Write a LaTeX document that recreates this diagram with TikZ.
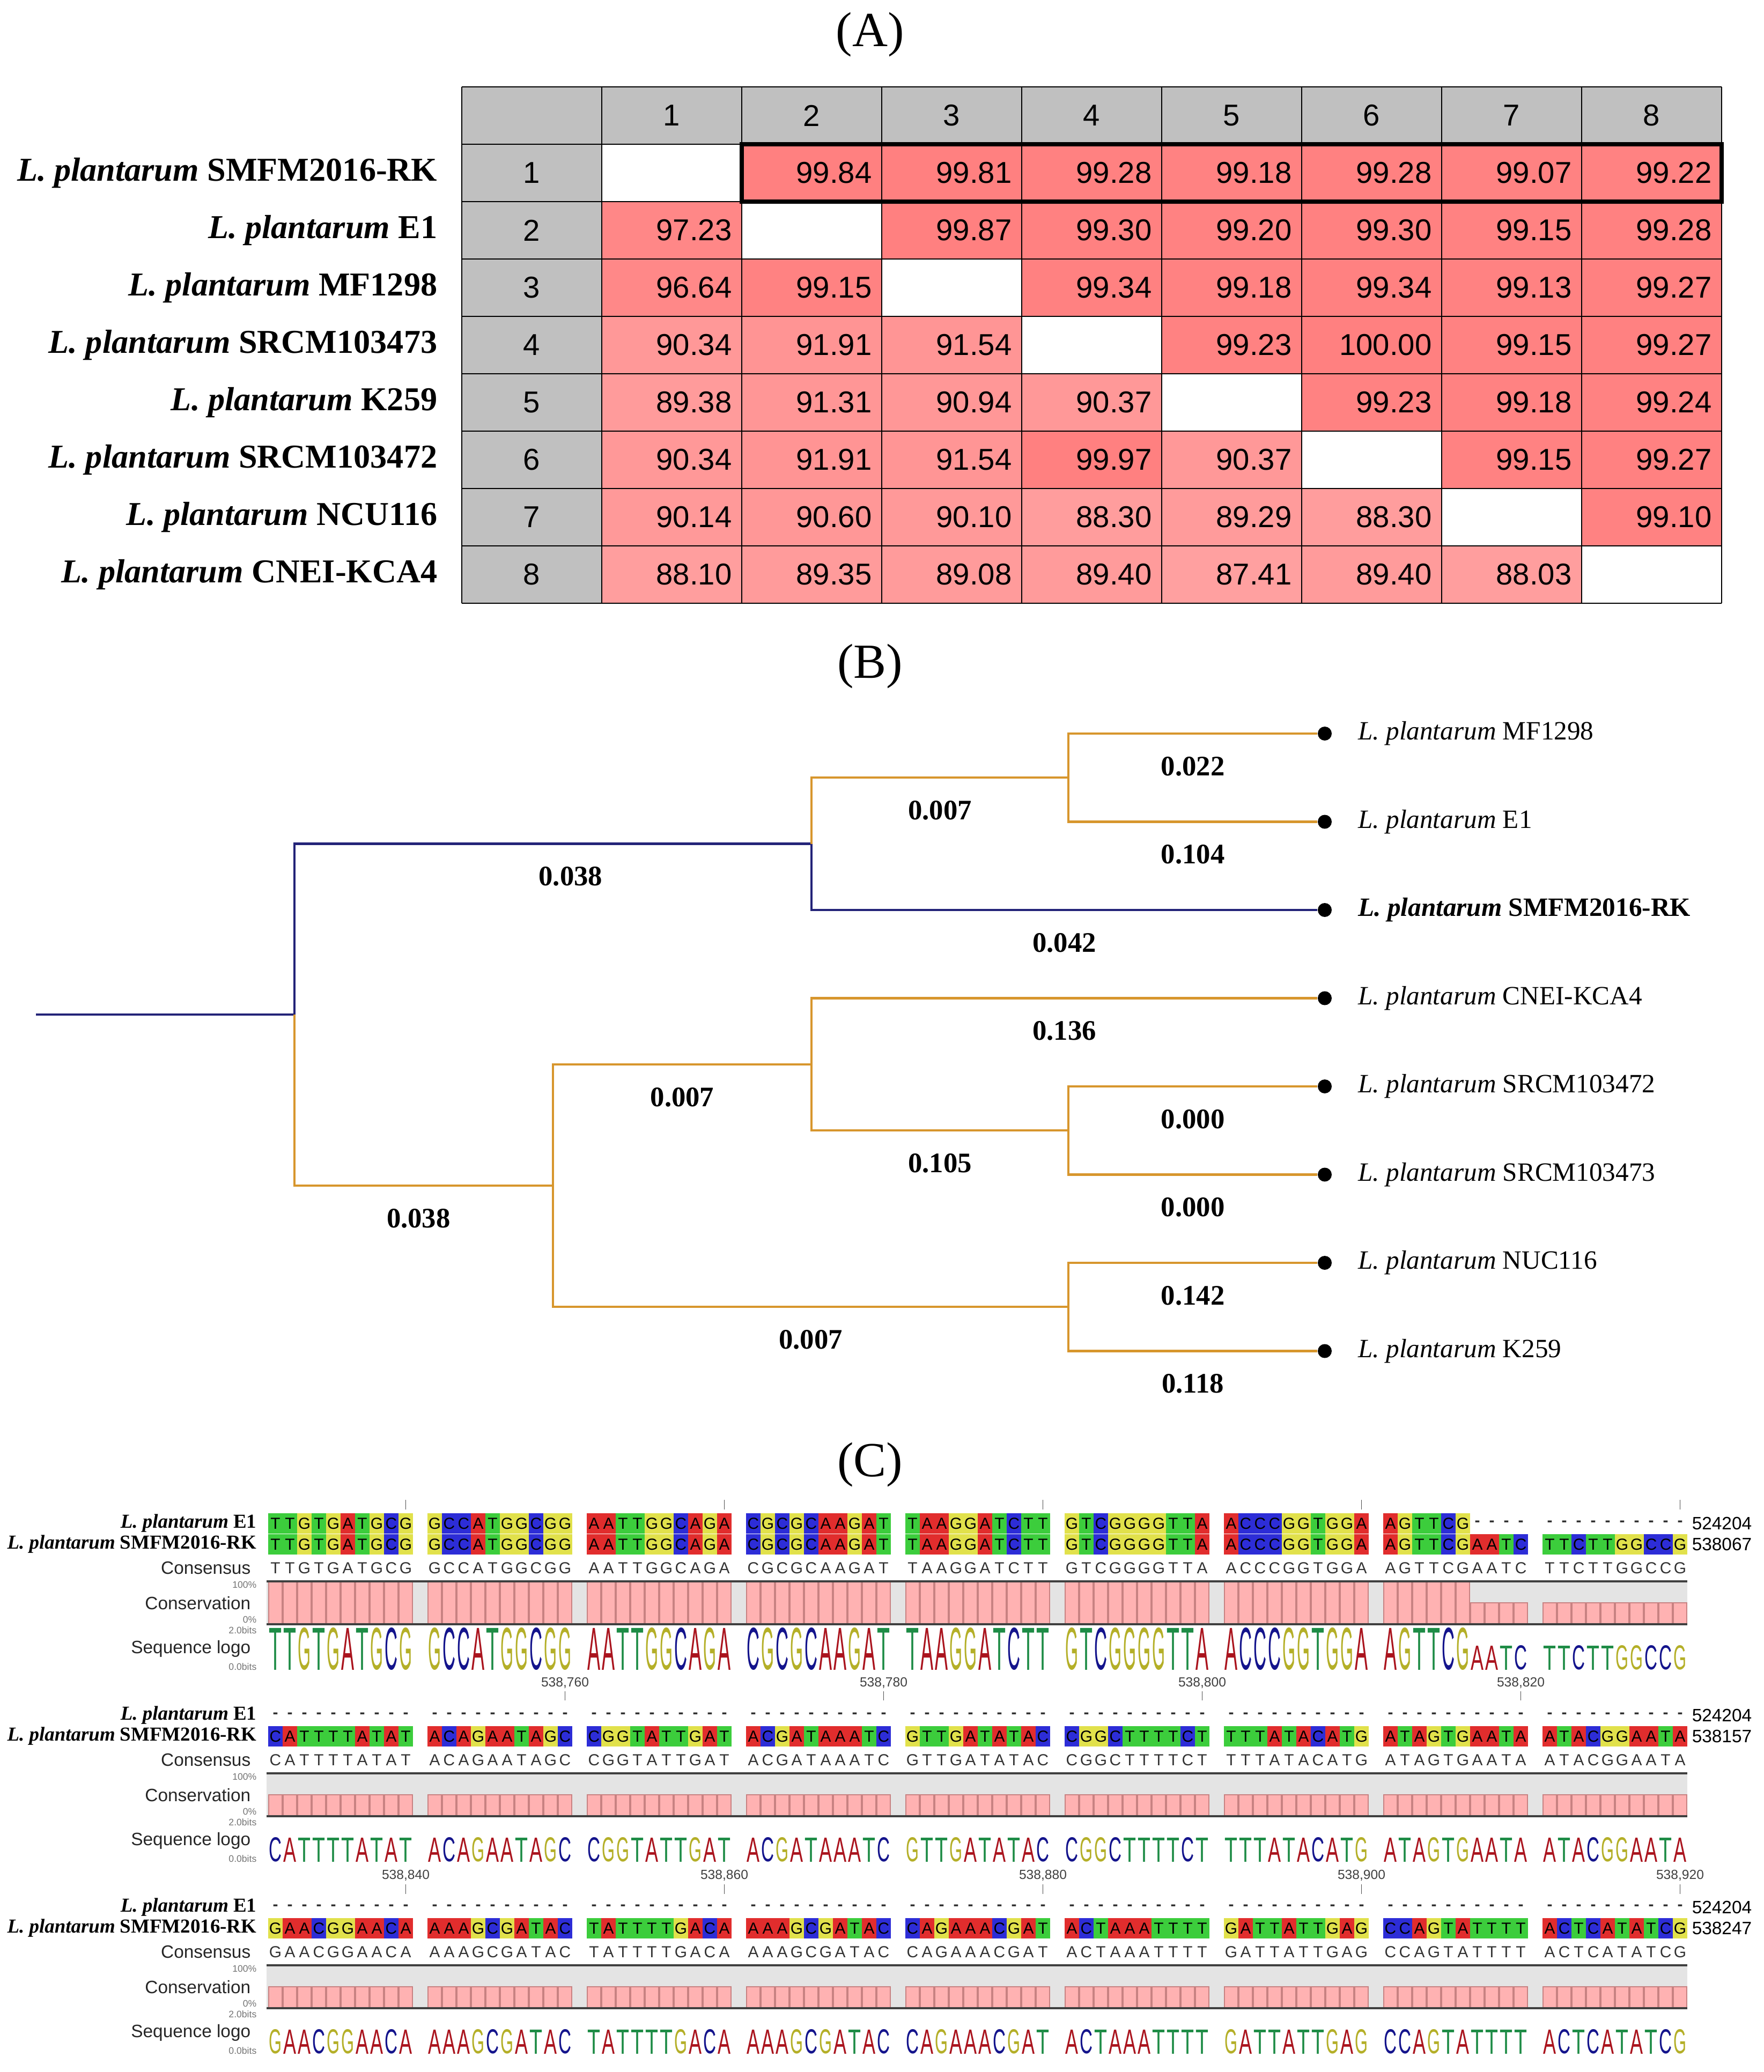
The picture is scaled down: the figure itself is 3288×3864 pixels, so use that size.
\documentclass[tikz,border=0pt]{standalone}
\usepackage{fontspec}
\setmainfont{Liberation Serif}
\setsansfont{Liberation Sans}
\usepackage{graphicx}
\usetikzlibrary{calc}

\definecolor{headgray}{RGB}{192,192,192}
\definecolor{treeblue}{RGB}{35,35,120}
\definecolor{treeorange}{RGB}{215,150,45}
\definecolor{ntA}{RGB}{225,45,45}
\definecolor{ntC}{RGB}{45,45,215}
\definecolor{ntG}{RGB}{225,225,75}
\definecolor{ntT}{RGB}{60,205,60}
\definecolor{lgA}{RGB}{170,20,30}
\definecolor{lgC}{RGB}{20,20,140}
\definecolor{lgG}{RGB}{180,175,40}
\definecolor{lgT}{RGB}{30,140,70}
\colorlet{nta}{ntA}\colorlet{ntc}{ntC}\colorlet{ntg}{ntG}\colorlet{ntt}{ntT}
\colorlet{lga}{lgA}\colorlet{lgc}{lgC}\colorlet{lgg}{lgG}\colorlet{lgt}{lgT}
\definecolor{barpink}{RGB}{255,178,178}
\definecolor{baredge}{RGB}{200,130,130}
\definecolor{consbg}{RGB}{228,228,228}

\tikzset{
  paneltitle/.style={font=\fontsize{26}{30}\selectfont},
  rowlab/.style={anchor=east, inner sep=0pt, font=\fontsize{17.7}{21}\selectfont\bfseries},
  cellnum/.style={inner sep=0pt, font=\sffamily\fontsize{16}{19}\selectfont},
  gridline/.style={line width=0.8pt},
  branchblue/.style={draw=treeblue, line width=1.2pt},
  branchorange/.style={draw=treeorange, line width=1.2pt},
  brlab/.style={font=\fontsize{15}{18}\selectfont\bfseries, inner sep=0pt, below=0.41cm},
  leafdot/.style={circle, fill=black, inner sep=0pt, minimum size=0.26cm},
  leaflab/.style={anchor=west, font=\fontsize{14}{17}\selectfont},
  seqlab/.style={anchor=east, inner sep=0pt, font=\fontsize{10.5}{12.5}\selectfont\bfseries},
  tracklab/.style={anchor=east, inner sep=0pt, text=black!85, font=\sffamily\fontsize{9.5}{11}\selectfont},
  scalelab/.style={anchor=east, inner sep=0pt, text=black!55, font=\sffamily\fontsize{5}{6}\selectfont},
  ntlet/.style={inner sep=0pt, font=\sffamily\fontsize{8.5}{10}\selectfont},
  gaplet/.style={inner sep=0pt, text=black!80, font=\sffamily\bfseries\fontsize{8.5}{10}\selectfont},
  conslet/.style={inner sep=0pt, text=black!80, font=\sffamily\fontsize{8.5}{10}\selectfont},
  logolet/.style={anchor=south, inner sep=0pt},
  poslab/.style={inner sep=0pt, text=black!75, font=\sffamily\fontsize{7}{8}\selectfont},
  endnum/.style={anchor=west, inner sep=0pt, font=\sffamily\fontsize{9.5}{11}\selectfont},
  tickmark/.style={draw=black!70, line width=0.5pt},
  consbar/.style={fill=barpink, draw=baredge, line width=0.4pt},
  consline/.style={draw=black!75, line width=0.9pt}
}

% alignment columns, one character at a time
\newcount\seqn
\def\seqscan#1{\ifx#1\relax\else\seqdo#1\global\advance\seqn by 1\relax\expandafter\seqscan\fi}
\def\eicol#1{%
  \ifx#1.\else
    \pgfmathsetmacro\cx{500+27*\the\seqn}%
    \ifx#1-%
      \node[gaplet] (e\seqb-\the\seqn) at ({\cx+13.5},{\seqy-39}) {-};
    \else
      \fill[nt#1] ({\cx},{\seqy-58}) rectangle +(27,38);
      \node[ntlet] (e\seqb-\the\seqn) at ({\cx+13.5},{\seqy-39}) {#1};
    \fi
  \fi}
\def\rkcol#1{%
  \ifx#1.\else
    \pgfmathsetmacro\cx{500+27*\the\seqn}%
    \ifnum`#1>90 \def\barh{40}\def\logoh{0.45cm}\else\def\barh{80}\def\logoh{0.78cm}\fi
    \fill[nt#1] ({\cx},{\seqy-19}) rectangle +(27,38);
    \node[ntlet] (rk\seqb-\the\seqn) at ({\cx+13.5},{\seqy}) {\uppercase{#1}};
    \node[conslet] (cs\seqb-\the\seqn) at ({\cx+13.5},{\seqy+44}) {\uppercase{#1}};
    \draw[consbar] ({\cx+1},{\seqy+149-\barh}) rectangle ({\cx+26},{\seqy+149});
    \node[logolet, text=lg#1] (lg\seqb-\the\seqn) at ({\cx+13.5},{\seqy+235})
      {\resizebox{0.24cm}{\logoh}{\sffamily\uppercase{#1}}};
  \fi}
% #1 y, #2 block, #3 E1, #4 SMFM2016-RK, #5 end position
\newcommand\seqblock[5]{%
  \def\seqy{#1}\def\seqb{#2}%
  \node[seqlab] (e1lab#2) at (479,{#1-39}) {\textit{L. plantarum} E1};
  \node[seqlab] (rklab#2) at (479,{#1}) {\textit{L. plantarum} SMFM2016-RK};
  \node[tracklab] (conslab#2) at (468,{#1+44}) {Consensus};
  \node[tracklab] (conservlab#2) at (468,{#1+110}) {Conservation};
  \node[tracklab] (logolab#2) at (468,{#1+195}) {Sequence logo};
  \node[scalelab] (top#2) at (479,{#1+75}) {100\%};
  \node[scalelab] (zero#2) at (479,{#1+140}) {0\%};
  \node[scalelab] (bits#2) at (479,{#1+160}) {2.0bits};
  \node[scalelab] (nobits#2) at (479,{#1+228}) {0.0bits};
  \fill[consbg] (497,{#1+69}) rectangle (3146,{#1+149});
  \global\seqn=0 \let\seqdo\eicol \seqscan#3\relax
  \global\seqn=0 \let\seqdo\rkcol \seqscan#4\relax
  \draw[consline] (497,{#1+69}) -- (3146,{#1+69});
  \draw[consline] (497,{#1+149}) -- (3146,{#1+149});
  \node[endnum] (ende#2) at (3154,{#1-39}) {524204};
  \node[endnum] (endrk#2) at (3154,{#1}) {#5};
}

\begin{document}
\begin{tikzpicture}[x=0.01cm, y=-0.01cm]
\useasboundingbox (0,0) rectangle (3288,3864);

% (A) identidade
\node[paneltitle] (ta) at (1622,65) {(A)};
\foreach \i in {0,...,8} {
  \fill[headgray] ({861+261*\i},162) rectangle +(261,107);
  \fill[headgray] (861,{162+107*\i}) rectangle +(261,107);
}
\foreach \row [count=\i] in {{0,99.84,99.81,99.28,99.18,99.28,99.07,99.22},
    {97.23,0,99.87,99.30,99.20,99.30,99.15,99.28},
    {96.64,99.15,0,99.34,99.18,99.34,99.13,99.27},
    {90.34,91.91,91.54,0,99.23,100.00,99.15,99.27},
    {89.38,91.31,90.94,90.37,0,99.23,99.18,99.24},
    {90.34,91.91,91.54,99.97,90.37,0,99.15,99.27},
    {90.14,90.60,90.10,88.30,89.29,88.30,0,99.10},
    {88.10,89.35,89.08,89.40,87.41,89.40,88.03,0}} {
  \node[cellnum] (r\i) at (991.5,{162+107*\i+53.5}) {\i};
  \node[cellnum] (h\i) at ({861+261*\i+130.5},215.5) {\i};
  \foreach \v [count=\j] in \row {
    \ifdim\v pt<1pt
      \fill[white] ({861+261*\j},{162+107*\i}) rectangle +(261,107);
    \else
      \pgfmathsetmacro\shade{\v-50}
      \fill[red!\shade] ({861+261*\j},{162+107*\i}) rectangle +(261,107);
      \node[cellnum, anchor=east] (c\i-\j) at ({861+261*(\j+1)-18},{162+107*\i+53.5}) {\v};
    \fi
  }
}
\foreach \i in {0,...,9} {
  \draw[gridline] ({861+261*\i},162) -- +(0,963);
  \draw[gridline] (861,{162+107*\i}) -- +(2349,0);
}
\draw[line width=2.4pt] (1383,269) rectangle (3210,376);
\foreach \name [count=\i] in {SMFM2016-RK,E1,MF1298,SRCM103473,K259,SRCM103472,NCU116,CNEI-KCA4}
  \node[rowlab] (lab\i) at (816,{162+107*\i+53.5}) {\textit{L. plantarum} \name};

% (B) arvore
\node[paneltitle] (tb) at (1622,1243) {(B)};
\coordinate (root) at (67,1892);
\coordinate (n0) at (549,1892);
\coordinate (n1) at (1513,1573.5);
\coordinate (n2) at (1992,1450);
\coordinate (n3) at (1031,2211);
\coordinate (n4) at (1513,1985);
\coordinate (n5) at (1992,2108);
\coordinate (n6) at (1992,2437);
\foreach \leaf/\name [count=\k from 0] in {mf/MF1298,e1/E1,rk/SMFM2016-RK,cnei/CNEI-KCA4,
    s72/SRCM103472,s73/SRCM103473,nuc/NUC116,k259/K259} {
  \node[leafdot] (\leaf) at (2470,{1368+164.5*\k}) {};
  \ifnum\k=2
    \node[leaflab, font=\fontsize{14}{17}\selectfont\bfseries] (t\leaf) at (2520,{1368+164.5*\k}) {\textit{L. plantarum} \name};
  \else
    \node[leaflab] (t\leaf) at (2520,{1368+164.5*\k}) {\textit{L. plantarum} \name};
  \fi
}
\draw[branchblue] (root) -- (n0);
\draw[branchblue] (n0) |- (n1) node[pos=0.767, brlab] {0.038};
\draw[branchorange] (n1) |- (n2) node[pos=0.75, brlab] {0.007};
\draw[branchorange] (n2) |- (mf) node[pos=0.75, brlab] {0.022};
\draw[branchorange] (n2) |- (e1) node[pos=0.75, brlab] {0.104};
\draw[branchblue] (n1) |- (rk) node[pos=0.75, brlab] {0.042};
\draw[branchorange] (n0) |- (n3) node[pos=0.74, brlab] {0.038};
\draw[branchorange] (n3) |- (n4) node[pos=0.75, brlab] {0.007};
\draw[branchorange] (n4) |- (cnei) node[pos=0.75, brlab] {0.136};
\draw[branchorange] (n4) |- (n5) node[pos=0.75, brlab] {0.105};
\draw[branchorange] (n5) |- (s72) node[pos=0.75, brlab] {0.000};
\draw[branchorange] (n5) |- (s73) node[pos=0.75, brlab] {0.000};
\draw[branchorange] (n3) |- (n6) node[pos=0.75, brlab] {0.007};
\draw[branchorange] (n6) |- (nuc) node[pos=0.75, brlab] {0.142};
\draw[branchorange] (n6) |- (k259) node[pos=0.75, brlab] {0.118};

% (C) alinhamento
\node[paneltitle] (tc) at (1622,2731) {(C)};
\seqblock{2880}{1}{TTGTGATGCG.GCCATGGCGG.AATTGGCAGA.CGCGCAAGAT.TAAGGATCTT.GTCGGGGTTA.ACCCGGTGGA.AGTTCG----.----------}
  {TTGTGATGCG.GCCATGGCGG.AATTGGCAGA.CGCGCAAGAT.TAAGGATCTT.GTCGGGGTTA.ACCCGGTGGA.AGTTCGaatc.ttcttggccg}{538067}
\seqblock{3238}{2}{----------.----------.----------.----------.----------.----------.----------.----------.----------}
  {cattttatat.acagaatagc.cggtattgat.acgataaatc.gttgatatac.cggcttttct.tttatacatg.atagtgaata.atacggaata}{538157}
\seqblock{3596}{3}{----------.----------.----------.----------.----------.----------.----------.----------.----------}
  {gaacggaaca.aaagcgatac.tattttgaca.aaagcgatac.cagaaacgat.actaaatttt.gattattgag.ccagtatttt.actcatatcg}{538247}
% escala
\foreach \g in {0,2,4,6,8}
  \draw[tickmark] ({756.5+297*\g},2797) -- +(0,18);
\foreach \g/\lab in {1/{538,760},3/{538,780},5/{538,800},7/{538,820}} {
  \node[poslab] (pa\g) at ({756.5+297*\g},3138) {\lab};
  \draw[tickmark] ({756.5+297*\g},3154) -- +(0,17);
}
\foreach \g/\lab in {0/{538,840},2/{538,860},4/{538,880},6/{538,900},8/{538,920}} {
  \node[poslab] (pb\g) at ({756.5+297*\g},3497) {\lab};
  \draw[tickmark] ({756.5+297*\g},3514) -- +(0,18);
}
\end{tikzpicture}
\end{document}
